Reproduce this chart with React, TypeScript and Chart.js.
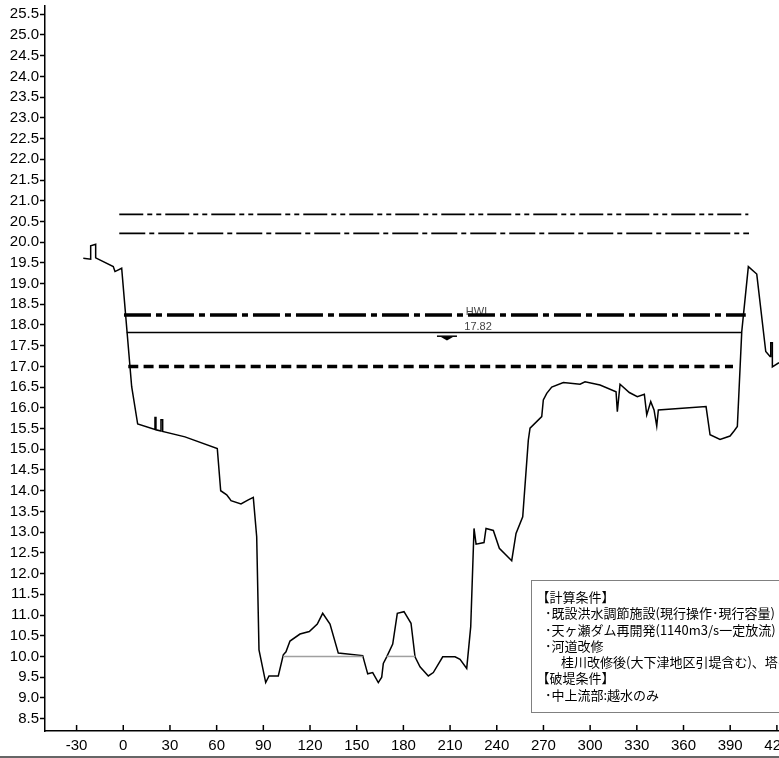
import React, { useEffect, useRef } from "react";
import { Chart, registerables } from "chart.js";

Chart.register(...registerables);

// ---- tick labels ----
const X_TICKS = [-30, 0, 30, 60, 90, 120, 150, 180, 210, 240, 270, 300, 330, 360, 390, 420];
const Y_TICKS = [
  8.5, 9.0, 9.5, 10.0, 10.5, 11.0, 11.5, 12.0, 12.5, 13.0, 13.5, 14.0, 14.5, 15.0, 15.5, 16.0, 16.5,
  17.0, 17.5, 18.0, 18.5, 19.0, 19.5, 20.0, 20.5, 21.0, 21.5, 22.0, 22.5, 23.0, 23.5, 24.0, 24.5, 25.0, 25.5,
];

// ---- ground cross-section profile (distance m, elevation m) ----
const GROUND_X = [
  -25.7, -20.95, -20.95, -17.74, -17.74, -6.43, -5.33, -1.03, 5.4, 9.25, 20.37, 20.37, 21.0, 21.0, 24.23, 24.23,
  25.32, 25.32, 39.65, 60.41, 62.6, 66.45, 68.12, 69.22, 75.64, 80.33, 83.55, 85.73, 87.21, 91.52, 93.64, 99.61,
  102.83, 104.56, 107.13, 113.56, 119.54, 124.68, 128.15, 132.84, 138.17, 153.86, 157.07, 160.28, 163.88, 166.07,
  167.1, 169.28, 173.14, 176.09, 180.4, 184.9, 187.47, 190.68, 196.02, 199.23, 205.27, 213.17, 216.39, 220.69,
  223.27, 225.39, 226.7, 231.81, 233.1, 237.79, 241.65, 249.61, 252.38, 256.68, 260.28, 261.38, 268.9, 269.92,
  272.11, 275.32, 282.78, 293.51, 296.72, 306.36, 316.65, 317.48, 319.22, 325.19, 330.33, 334.83, 336.38, 338.95,
  341.07, 342.8, 343.83, 374.49, 377.06, 383.48, 389.91, 392.48, 394.6, 395.69, 397.43, 401.67, 407.07, 412.85,
  415.62, 416.07, 417.1, 417.1, 420.95, 434.9,
];
const GROUND_Y = [
  19.61, 19.59, 19.91, 19.95, 19.62, 19.41, 19.29, 19.37, 16.51, 15.61, 15.48, 15.77, 15.77, 15.47, 15.44, 15.71,
  15.71, 15.43, 15.3, 15.02, 14.0, 13.9, 13.82, 13.76, 13.68, 13.78, 13.84, 12.89, 10.16, 9.37, 9.53, 9.53,
  10.04, 10.11, 10.37, 10.54, 10.6, 10.78, 11.04, 10.78, 10.08, 10.02, 9.58, 9.61, 9.37, 9.5,
  9.83, 9.99, 10.3, 11.04, 11.08, 10.8, 9.99, 9.75, 9.53, 9.61, 9.99, 9.99, 9.93, 9.71,
  10.72, 13.09, 12.71, 12.75, 13.09, 13.04, 12.61, 12.31, 12.97, 13.37, 15.22, 15.51, 15.79, 16.19,
  16.35, 16.5, 16.61, 16.57, 16.63, 16.55, 16.39, 15.91, 16.57, 16.37, 16.27, 16.33, 15.83, 16.15,
  15.95, 15.56, 15.95, 16.03, 15.35, 15.24, 15.32, 15.44, 15.55, 16.43, 17.84, 19.41, 19.23, 17.36,
  17.24, 17.57, 17.57, 16.99, 17.08, 17.08,
];

// ---- grey bed segments ----
const BED_LEVEL = 10.0;
const BED_SEG1_X = [102.83, 153.86];
const BED_SEG2_X = [169.28, 187.47];

// ---- water level lines ----
const LEVEL_TOP = 20.67;
const LEVEL_TOP_X = [-2.57, 401.67];
const LEVEL_SECOND = 20.21;
const LEVEL_SECOND_X = [-2.57, 402.1];
const LEVEL_CALC = 18.24;
const LEVEL_CALC_X = [0.45, 400.0];
const HWL = 17.82;
const HWL_X = [2.19, 397.4];
const HWL_LABEL_X = 228;
const HWL_MARK_X = 208;
const LEVEL_LOW = 17.0;
const LEVEL_LOW_X = [3.21, 391.8];

const NOTE_LINES = [
  "【計算条件】",
  "･既設洪水調節施設(現行操作･現行容量)",
  "･天ヶ瀬ダム再開発(1140m3/s一定放流)",
  "･河道改修",
  "桂川改修後(大下津地区引堤含む)、塔の島地区改修",
  "【破堤条件】",
  "･中上流部:越水のみ",
];

const W = 808;
const H = 758;

function hline(xs: number[], y: number) {
  return xs.map((x) => ({ x, y }));
}

export default function App() {
  const ref = useRef<HTMLCanvasElement>(null);

  useEffect(() => {
    const canvas = ref.current!;
    const overlay = {
      id: "overlay",
      beforeDatasetsDraw(chart: any) {
        const { ctx, scales } = chart;
        const xs = scales.x;
        const ys = scales.y;
        const lx = xs.getPixelForValue(HWL_LABEL_X);
        const ly = ys.getPixelForValue(HWL);
        ctx.save();
        ctx.fillStyle = "#444";
        ctx.font = '11px "Liberation Sans", Arial, sans-serif';
        ctx.textAlign = "center";
        ctx.textBaseline = "middle";
        ctx.fillText("HWL", lx, ly - 20);
        ctx.fillText(HWL.toFixed(2), lx, ly - 5.5);
        ctx.restore();
      },
      afterDraw(chart: any) {
        const { ctx, scales, chartArea } = chart;
        const xs = scales.x;
        const ys = scales.y;
        ctx.save();
        // water level mark
        const mx = xs.getPixelForValue(HWL_MARK_X);
        const my = ys.getPixelForValue(HWL);
        ctx.fillStyle = "#000";
        ctx.fillRect(mx - 10, my + 3, 20, 1.5);
        ctx.beginPath();
        ctx.moveTo(mx - 6, my + 4.5);
        ctx.lineTo(mx + 6, my + 4.5);
        ctx.lineTo(mx, my + 8);
        ctx.closePath();
        ctx.fill();
        // inward x ticks
        ctx.strokeStyle = "#000";
        ctx.lineWidth = 1.5;
        X_TICKS.forEach((v) => {
          const px = xs.getPixelForValue(v);
          ctx.beginPath();
          ctx.moveTo(px, chartArea.bottom);
          ctx.lineTo(px, chartArea.bottom - 6);
          ctx.stroke();
        });
        // notes box
        ctx.fillStyle = "#fff";
        ctx.fillRect(532, 581, 400, 131);
        ctx.strokeStyle = "#000";
        ctx.lineWidth = 1;
        ctx.setLineDash([1, 1]);
        ctx.strokeRect(531.5, 580.5, 400, 132);
        ctx.setLineDash([]);
        ctx.fillStyle = "#000";
        ctx.font = '13px "Noto Sans CJK JP", sans-serif';
        ctx.textAlign = "left";
        ctx.textBaseline = "middle";
        NOTE_LINES.forEach((t, i) => {
          let x = 545;
          if (t.startsWith("【")) x = 536.5;
          else if (!t.startsWith("･")) x = 561;
          ctx.fillText(t, x, 597 + i * 16.3);
        });
        // bottom frame
        ctx.fillStyle = "#666";
        ctx.fillRect(0, 756, W, 2);
        ctx.restore();
      },
    };

    const tickFont = { family: '"Liberation Sans", Arial, sans-serif', size: 15 };

    const chart = new Chart(canvas, {
      type: "line",
      data: {
        datasets: [
          {
            data: hline(BED_SEG1_X, BED_LEVEL),
            borderColor: "#a0a0a0",
            borderWidth: 1.5,
          },
          {
            data: hline(BED_SEG2_X, BED_LEVEL),
            borderColor: "#a0a0a0",
            borderWidth: 1.5,
          },
          {
            data: GROUND_X.map((x, i) => ({ x, y: GROUND_Y[i] })),
            borderColor: "#000",
            borderWidth: 1.5,
          },
          {
            data: hline(LEVEL_TOP_X, LEVEL_TOP),
            borderColor: "#000",
            borderWidth: 1.8,
            borderDash: [24, 4, 5, 4, 5, 4],
          },
          {
            data: hline(LEVEL_SECOND_X, LEVEL_SECOND),
            borderColor: "#000",
            borderWidth: 1.8,
            borderDash: [26, 4, 5, 4],
          },
          {
            data: hline(LEVEL_CALC_X, LEVEL_CALC),
            borderColor: "#000",
            borderWidth: 3.5,
            borderDash: [27, 5, 6, 5],
          },
          {
            data: hline(HWL_X, HWL),
            borderColor: "#000",
            borderWidth: 1.5,
          },
          {
            data: hline(LEVEL_LOW_X, LEVEL_LOW),
            borderColor: "#000",
            borderWidth: 3.5,
            borderDash: [10, 5.3],
          },
        ] as any,
      },
      options: {
        responsive: false,
        animation: false,
        devicePixelRatio: 1,
        layout: { padding: { top: 6, left: 0, right: 0, bottom: 0 } },
        plugins: { legend: { display: false }, tooltip: { enabled: false } },
        elements: { point: { radius: 0 }, line: { tension: 0, borderCapStyle: "butt" } },
        scales: {
          x: {
            type: "linear",
            min: -50.3,
            max: 440,
            afterBuildTicks: (s: any) => {
              s.ticks = X_TICKS.map((v) => ({ value: v }));
            },
            afterFit: (s: any) => {
              s.height = 27;
              s.paddingLeft = 0;
              s.paddingRight = 0;
            },
            grid: { display: true, drawOnChartArea: false, drawTicks: false },
            border: { display: true, color: "#000", width: 1.5 },
            ticks: {
              font: tickFont,
              color: "#000",
              padding: 6,
              maxRotation: 0,
              autoSkip: false,
              callback: (v: any) => String(v),
            },
          },
          y: {
            type: "linear",
            min: 8.2,
            max: 25.7,
            afterBuildTicks: (s: any) => {
              s.ticks = Y_TICKS.map((v) => ({ value: v }));
            },
            afterFit: (s: any) => {
              s.width = 45;
              s.paddingTop = 0;
              s.paddingBottom = 0;
            },
            grid: {
              display: true,
              drawOnChartArea: false,
              drawTicks: true,
              tickLength: 5,
              tickWidth: 1.5,
              tickColor: "#000",
              color: "#000",
            },
            border: { display: true, color: "#000", width: 1.5 },
            ticks: {
              font: tickFont,
              color: "#000",
              padding: 1,
              autoSkip: false,
              callback: (v: any) => Number(v).toFixed(1),
            },
          },
        },
      } as any,
      plugins: [overlay],
    });
    return () => chart.destroy();
  }, []);

  return (
    <div
      style={{
        position: "absolute",
        left: 0,
        top: 0,
        width: 779,
        height: 758,
        overflow: "hidden",
        background: "#fff",
      }}
    >
      <canvas ref={ref} width={W} height={H} style={{ display: "block", width: W, height: H }} />
    </div>
  );
}
